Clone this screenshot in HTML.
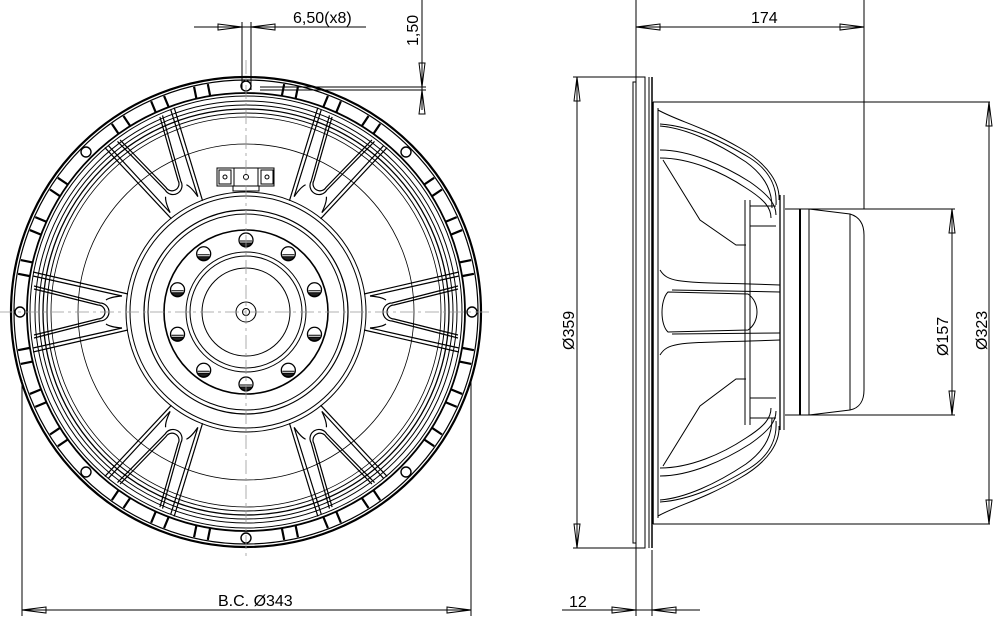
<!DOCTYPE html>
<html><head><meta charset="utf-8"><style>
html,body{margin:0;padding:0;background:#fff;}
svg{display:block;}
text{font-family:"Liberation Sans",sans-serif;fill:#000;}
</style></head><body>
<svg width="997" height="624" viewBox="0 0 997 624" xmlns="http://www.w3.org/2000/svg">
<defs>
<g id="vg" fill="none" stroke="#000" stroke-width="1.2">
  <path d="M213,-40 L118,-18"/>
  <path d="M213,40 L118,18"/>
  <path d="M213,-36 L124,-16"/>
  <path d="M213,36 L124,16"/>
  <path d="M212,-26 L146,-9 A8 8 0 0 0 146,9 L212,26"/>
  <path d="M212,-23 L148,-7 A6 6 0 0 0 148,7 L212,23"/>
  <path d="M124,-16 Q136,-15 140,-12"/>
  <path d="M124,16 Q136,15 140,12"/>
</g>
<g id="hole"><circle r="7" fill="#fff" stroke="#000" stroke-width="1.3"/><path d="M-6,1 L6,1" stroke="#000" stroke-width="1"/><path d="M-6,3 A7 7 0 0 0 6,3 Z" fill="#222"/></g>
<g id="slot" fill="none" stroke="#000" stroke-width="2.2"><path d="M-7,-219 L-7,-231 M7,-219 L7,-231"/></g>
</defs>

<!-- ===== FRONT VIEW ===== -->
<g transform="translate(246,312)" fill="none" stroke="#000">
  <circle r="235" stroke-width="2.2"/>
  <circle r="232" stroke-width="1.2"/>
  <circle r="219" stroke-width="1.8"/>
  <circle r="216" stroke-width="1"/>
  <circle r="211" stroke-width="1"/>
  <circle r="207" stroke-width="1"/>
  <circle r="203" stroke-width="1.3"/>
  <circle r="199" stroke-width="1"/>
  <circle r="195" stroke-width="0.8"/>
  <circle r="168" stroke-width="0.8"/>
  <circle r="120" stroke-width="1"/>
  <circle r="116" stroke-width="1"/>
  <circle r="102" stroke-width="1.2"/>
  <circle r="98" stroke-width="1"/>
  <circle r="82" stroke-width="1.6"/>
  <circle r="60" stroke-width="1"/>
  <circle r="56" stroke-width="1"/>
  <circle r="44" stroke-width="1"/>
  <circle r="10" stroke-width="1"/>
  <circle r="3.5" stroke-width="1"/>
  <g>
    <g transform="rotate(11.25)"><use href="#slot"/></g><g transform="rotate(-11.25)"><use href="#slot"/></g>
    <g transform="rotate(33.75)"><use href="#slot"/></g><g transform="rotate(-33.75)"><use href="#slot"/></g>
    <g transform="rotate(56.25)"><use href="#slot"/></g><g transform="rotate(-56.25)"><use href="#slot"/></g>
    <g transform="rotate(78.75)"><use href="#slot"/></g><g transform="rotate(-78.75)"><use href="#slot"/></g>
    <g transform="rotate(101.25)"><use href="#slot"/></g><g transform="rotate(-101.25)"><use href="#slot"/></g>
    <g transform="rotate(123.75)"><use href="#slot"/></g><g transform="rotate(-123.75)"><use href="#slot"/></g>
    <g transform="rotate(146.25)"><use href="#slot"/></g><g transform="rotate(-146.25)"><use href="#slot"/></g>
    <g transform="rotate(168.75)"><use href="#slot"/></g><g transform="rotate(-168.75)"><use href="#slot"/></g>
    <g transform="rotate(22.5)"><use href="#slot"/></g><g transform="rotate(-22.5)"><use href="#slot"/></g>
    <g transform="rotate(67.5)"><use href="#slot"/></g><g transform="rotate(-67.5)"><use href="#slot"/></g>
    <g transform="rotate(112.5)"><use href="#slot"/></g><g transform="rotate(-112.5)"><use href="#slot"/></g>
    <g transform="rotate(157.5)"><use href="#slot"/></g><g transform="rotate(-157.5)"><use href="#slot"/></g>
  </g>
  <g stroke-width="1.4" fill="#fff">
    <circle cx="0" cy="-226" r="5"/><circle cx="0" cy="226" r="5"/>
    <circle cx="-226" cy="0" r="5"/><circle cx="226" cy="0" r="5"/>
    <circle cx="-160" cy="-160" r="5"/><circle cx="160" cy="-160" r="5"/>
    <circle cx="-160" cy="160" r="5"/><circle cx="160" cy="160" r="5"/>
  </g>
  <use href="#vg" transform="rotate(0)"/>
  <use href="#vg" transform="rotate(60)"/>
  <use href="#vg" transform="rotate(120)"/>
  <use href="#vg" transform="rotate(180)"/>
  <use href="#vg" transform="rotate(240)"/>
  <use href="#vg" transform="rotate(300)"/>
  <use href="#hole" transform="rotate(-90) translate(72,0) rotate(90)"/>
  <use href="#hole" transform="rotate(-54) translate(72,0) rotate(54)"/>
  <use href="#hole" transform="rotate(-18) translate(72,0) rotate(18)"/>
  <use href="#hole" transform="rotate(18) translate(72,0) rotate(-18)"/>
  <use href="#hole" transform="rotate(54) translate(72,0) rotate(-54)"/>
  <use href="#hole" transform="rotate(90) translate(72,0) rotate(-90)"/>
  <use href="#hole" transform="rotate(126) translate(72,0) rotate(-126)"/>
  <use href="#hole" transform="rotate(162) translate(72,0) rotate(-162)"/>
  <use href="#hole" transform="rotate(198) translate(72,0) rotate(-198)"/>
  <use href="#hole" transform="rotate(234) translate(72,0) rotate(-234)"/>
</g>
<g fill="none" stroke="#000" stroke-width="1">
  <rect x="217" y="168" width="57" height="18"/>
  <rect x="219" y="170" width="12" height="14"/>
  <rect x="261" y="170" width="12" height="14"/>
  <line x1="234" y1="168" x2="234" y2="186"/><line x1="258" y1="168" x2="258" y2="186"/>
  <circle cx="225" cy="177" r="2"/><circle cx="267" cy="177" r="2"/><circle cx="246" cy="177" r="2.5"/>
  <rect x="233" y="186" width="26" height="5"/>
</g>
<g stroke="#999" stroke-width="0.8" stroke-dasharray="14,4,3,4" fill="none">
  <line x1="246" y1="60" x2="246" y2="560"/>
  <line x1="0" y1="312" x2="490" y2="312"/>
</g>

<g stroke="#000" stroke-width="1" fill="none">
  <line x1="194" y1="27" x2="366" y2="27"/>
  <line x1="242" y1="22" x2="242" y2="90"/>
  <line x1="251" y1="22" x2="251" y2="90"/>
  <path d="M218,24 L242,27 L218,30 Z"/>
  <path d="M275,24 L251,27 L275,30 Z"/>
  <line x1="422" y1="0" x2="422" y2="110"/>
  <line x1="260" y1="87" x2="426" y2="87"/>
  <line x1="260" y1="90" x2="426" y2="90"/>
  <path d="M419,63 L422,87 L425,63 Z"/>
  <path d="M419,114 L422,90 L425,114 Z"/>
  <line x1="22" y1="380" x2="22" y2="616"/>
  <line x1="471" y1="380" x2="471" y2="616"/>
  <line x1="22" y1="610" x2="471" y2="610"/>
  <path d="M46,607 L22,610 L46,613 Z"/>
  <path d="M447,607 L471,610 L447,613 Z"/>
</g>
<text x="293" y="23" font-size="16">6,50(x8)</text>
<text transform="translate(418,46) rotate(-90)" font-size="16">1,50</text>
<text x="218" y="606" font-size="16">B.C. Ø343</text>

<!-- ===== SIDE VIEW ===== -->
<g fill="none" stroke="#000" stroke-width="1">
  <rect x="633" y="82" width="3" height="461"/>
  <rect x="636" y="77" width="9" height="471"/>
  <line x1="649" y1="77" x2="649" y2="548"/>
  <line x1="652" y1="77" x2="652" y2="548" stroke-width="1.5"/>
  <line x1="653" y1="102" x2="653" y2="524" stroke-width="1.5"/>
  <line x1="658" y1="108" x2="658" y2="518"/>
  <path d="M658,110 C680,122 700,125 740,148 C770,165 780,185 779,200"/>
  <path d="M660,124 C690,126 720,140 750,158 C772,172 777,190 776,205"/>
  <path d="M660,126 C685,128 716,142 746,162 C768,178 772,194 772,208"/>
  <path d="M660,150 C690,150 725,166 750,182 C770,196 776,205 776,215"/>
  <path d="M660,158 C690,158 722,172 746,188 C765,200 771,208 771,218"/>
  <path d="M663,160 L700,220 L736,245 L746,245"/>
  <path d="M658,516 C680,504 700,501 740,478 C770,461 780,441 779,426"/>
  <path d="M660,502 C690,500 720,486 750,468 C772,454 777,436 776,421"/>
  <path d="M660,500 C685,498 716,484 746,464 C768,448 772,432 772,418"/>
  <path d="M660,476 C690,476 725,460 750,444 C770,430 776,421 776,411"/>
  <path d="M660,468 C690,468 722,454 746,438 C765,426 771,418 771,408"/>
  <path d="M663,466 L700,406 L736,379 L746,379"/>
  <path d="M660,270 C668,283 680,282 750,284 L780,285"/>
  <path d="M660,355 C668,342 680,343 750,341 L780,340"/>
  <path d="M668,292 C660,300 660,325 668,332 L748,330 C760,322 760,302 748,294 Z"/>
  <path d="M672,290 L780,292 M672,334 L780,333"/>
  <line x1="745" y1="200" x2="745" y2="425"/>
  <line x1="750" y1="200" x2="750" y2="425"/>
  <line x1="750" y1="206" x2="776" y2="206"/><line x1="750" y1="226" x2="776" y2="226"/>
  <line x1="750" y1="398" x2="776" y2="398"/><line x1="750" y1="418" x2="776" y2="418"/>
  <line x1="780" y1="195" x2="780" y2="430" stroke-width="1.3"/>
  <line x1="784" y1="195" x2="784" y2="430"/>
  <line x1="785" y1="209" x2="955" y2="209"/>
  <line x1="785" y1="415" x2="955" y2="415"/>
  <line x1="800" y1="209" x2="800" y2="415" stroke-width="2"/>
  <line x1="809" y1="209" x2="809" y2="415"/>
  <line x1="850" y1="214" x2="850" y2="410"/>
  <path d="M809,209 L850,214 C860,217 864,225 864,235 L864,390 C864,400 860,408 850,410 L809,415"/>
  <line x1="653" y1="102" x2="990" y2="102"/>
  <line x1="653" y1="524" x2="990" y2="524"/>
  <line x1="636" y1="0" x2="636" y2="77"/>
  <line x1="864" y1="0" x2="864" y2="209"/>
  <line x1="573" y1="77" x2="636" y2="77"/>
  <line x1="573" y1="548" x2="636" y2="548"/>
  <line x1="636" y1="548" x2="636" y2="616"/>
  <line x1="652" y1="550" x2="652" y2="616"/>
  <line x1="636" y1="27" x2="864" y2="27"/>
  <path d="M660,24 L636,27 L660,30 Z"/><path d="M840,24 L864,27 L840,30 Z"/>
  <line x1="577" y1="77" x2="577" y2="548"/>
  <path d="M574,101 L577,77 L580,101 Z"/><path d="M574,524 L577,548 L580,524 Z"/>
  <line x1="952" y1="209" x2="952" y2="415"/>
  <path d="M949,233 L952,209 L955,233 Z"/><path d="M949,391 L952,415 L955,391 Z"/>
  <line x1="989" y1="102" x2="989" y2="524"/>
  <path d="M986,126 L989,102 L992,126 Z"/><path d="M986,500 L989,524 L992,500 Z"/>
  <line x1="562" y1="610" x2="700" y2="610"/>
  <path d="M612,607 L636,610 L612,613 Z"/><path d="M676,607 L652,610 L676,613 Z"/>
</g>
<text x="751" y="23" font-size="16">174</text>
<text transform="translate(574,350) rotate(-90)" font-size="16">Ø359</text>
<text transform="translate(948,356) rotate(-90)" font-size="16">Ø157</text>
<text transform="translate(987,350) rotate(-90)" font-size="16">Ø323</text>
<text x="569" y="607" font-size="16">12</text>
</svg>
</body></html>
